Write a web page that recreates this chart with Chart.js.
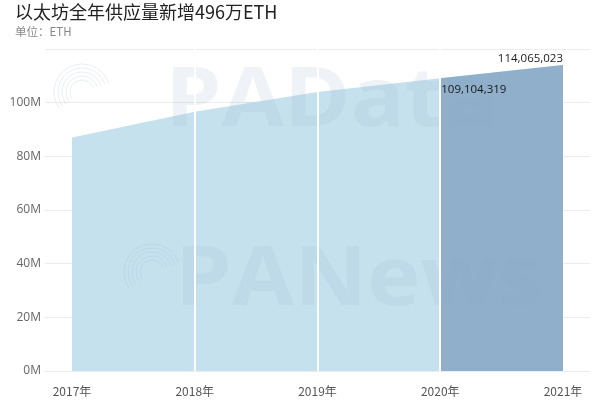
<!DOCTYPE html>
<html><head><meta charset="utf-8">
<script src="https://cdn.jsdelivr.net/npm/chart.js@4/dist/chart.umd.min.js"></script>
<style>
html,body{margin:0;padding:0;background:#fff;}
#wrap{position:relative;width:600px;height:410px;overflow:hidden;}
#title{position:absolute;left:15px;top:1px;line-height:20px;font-family:"Noto Sans CJK SC","Noto Sans",sans-serif;font-size:18px;color:#222;white-space:nowrap;}
#sub{position:absolute;left:15px;top:25px;line-height:13px;font-family:"Noto Sans CJK SC","Noto Sans",sans-serif;font-size:11.5px;color:#888;white-space:nowrap;}
canvas{position:absolute;left:0;top:0;}
</style></head>
<body><div id="wrap">
<canvas id="c" width="600" height="410"></canvas>
<div id="title">以太坊全年供应量新增496万ETH</div>
<div id="sub">单位：ETH</div>
</div>
<script>
const years = ['2017', '2018', '2019', '2020', '2021'];
const supplyM = [87.0, 96.6, 104.0, 109.104319, 114.065023];
const highlightFrom = 3;
const endLabels = ['109,104,319', '114,065,023'];
const yTicks = [0, 20, 40, 60, 80, 100, 120];

const allPts = supplyM.map((v, i) => ({x: i, y: v}));
const hiPts = allPts.slice(highlightFrom);

const labelPlugin = {
  id: 'labels',
  afterDatasetsDraw(chart) {
    const {ctx, scales: {x, y}} = chart;
    ctx.save();
    // watermarks
    ctx.fillStyle = 'rgba(140,170,200,0.14)';
    ctx.font = 'bold 82px "Open Sans", sans-serif';
    ctx.textBaseline = 'alphabetic';
    ctx.textAlign = 'left';
    ctx.save(); ctx.translate(165, 126); ctx.scale(1.1, 1); ctx.fillText('PAData', 0, 0); ctx.restore();
    ctx.save(); ctx.translate(175, 305); ctx.scale(1.1, 1); ctx.fillText('PANews', 0, 0); ctx.restore();
    ctx.strokeStyle = 'rgba(140,170,200,0.2)';
    ctx.lineWidth = 1;
    [[82, 92], [152, 272]].forEach(([cx, cy]) => {
      for (let r = 12; r <= 30; r += 4) {
        ctx.beginPath(); ctx.arc(cx, cy, r, Math.PI * 0.8, Math.PI * 1.9); ctx.stroke();
      }
    });
    // value labels
    ctx.fillStyle = '#1a1a1a';
    ctx.font = '11.5px "Open Sans", sans-serif';
    ctx.textBaseline = 'middle';
    const x3 = x.getPixelForValue(3), y3 = y.getPixelForValue(supplyM[3]);
    ctx.textAlign = 'left';
    ctx.fillText(endLabels[0], x3 + 1, y3 + 11);
    const x4 = x.getPixelForValue(4), y4 = y.getPixelForValue(supplyM[4]);
    ctx.textAlign = 'right';
    ctx.fillText(endLabels[1], x4, y4 - 6);
    ctx.restore();
  }
};

new Chart(document.getElementById('c'), {
  type: 'line',
  data: {
    datasets: [
      {data: hiPts, fill: 'origin', backgroundColor: '#8fafca', borderWidth: 0, pointRadius: 0, tension: 0, order: 1},
      {data: allPts, fill: 'origin', backgroundColor: '#c6e1ee', borderWidth: 0, pointRadius: 0, tension: 0, order: 2}
    ]
  },
  options: {
    responsive: false,
    animation: false,
    layout: {padding: {left: 0, right: 10, top: 49, bottom: 9}},
    plugins: {legend: {display: false}, tooltip: {enabled: false}},
    scales: {
      x: {
        type: 'linear', min: -0.22, max: 4.22,
        afterBuildTicks: s => { s.ticks = years.map((_, i) => ({value: i})); },
        afterFit: s => { s.height = 30; },
        ticks: {callback: v => years[v] + '年', color: '#555', font: {size: 12, family: '"Noto Sans CJK SC", sans-serif'}, padding: 13, maxRotation: 0, autoSkip: false},
        grid: {z: 1, lineWidth: 2, drawTicks: false, color: c => (c.tick && (c.tick.value === 0 || c.tick.value === 4)) ? 'rgba(0,0,0,0)' : '#ffffff'},
        border: {display: false}
      },
      y: {
        min: 0, max: 120,
        afterBuildTicks: s => { s.ticks = yTicks.map(v => ({value: v})); },
        afterFit: s => { s.width = 45; },
        ticks: {callback: v => v === 120 ? '' : v + 'M', color: '#666', font: {size: 12, family: '"Open Sans", sans-serif'}, padding: 4},
        grid: {color: '#ececec', drawTicks: false},
        border: {display: false}
      }
    }
  },
  plugins: [labelPlugin]
});
</script>
</body></html>
